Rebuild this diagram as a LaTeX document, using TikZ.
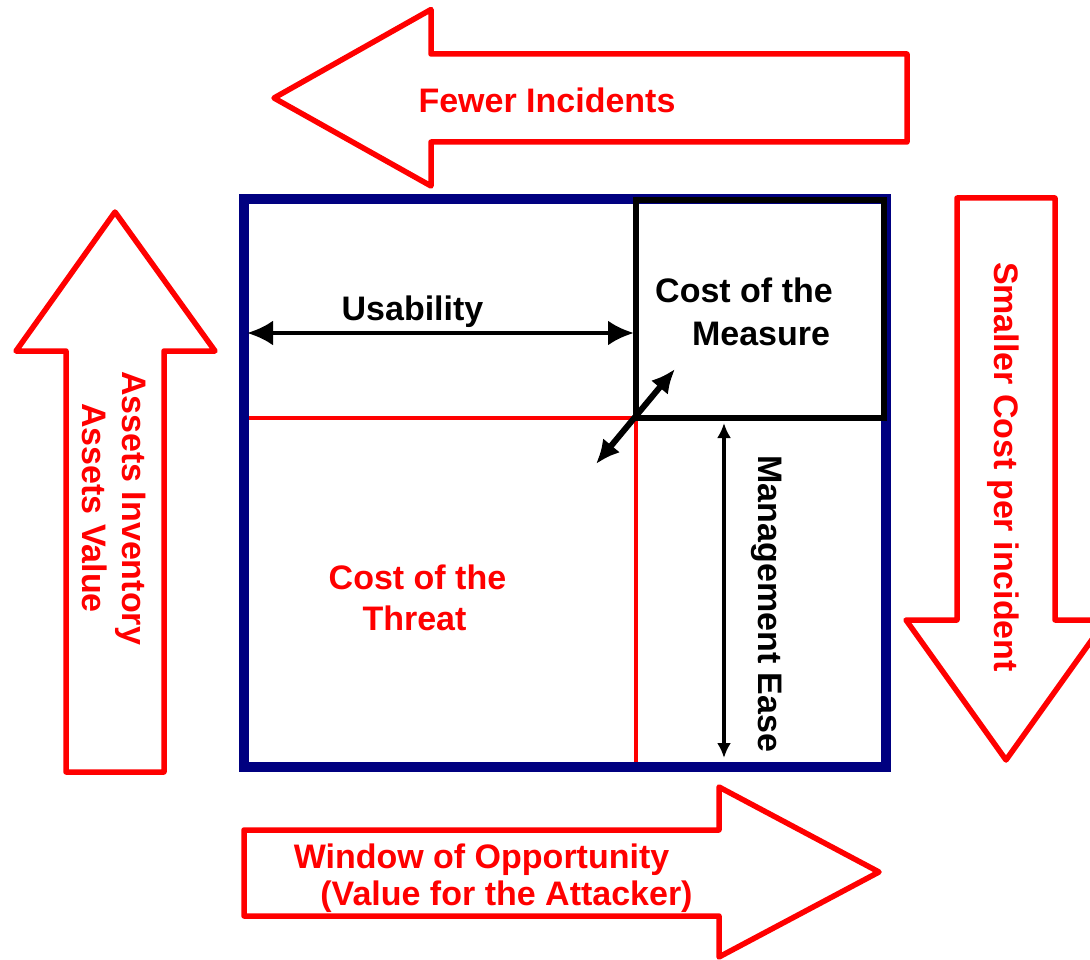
\documentclass[tikz,border=0pt]{standalone}
\usepackage{fontspec}
\setmainfont{Liberation Sans}
\usetikzlibrary{arrows.meta}
\definecolor{navybox}{RGB}{0,0,128}
\definecolor{redline}{RGB}{255,0,0}
\begin{document}
\begin{tikzpicture}[x=1pt,y=-1pt,
  lbl/.style={font=\bfseries\fontsize{34}{40}\selectfont, inner sep=0pt, anchor=base},
  redlbl/.style={lbl, text=redline},
  bigarrow/.style={draw=redline, line width=5.5pt, line join=round, fill=white},
  dimarrow/.style={draw=black, line width=4.5pt, {Latex[length=26pt,width=25pt]}-{Latex[length=26pt,width=25pt]}},
  diagarrow/.style={draw=black, line width=6pt, {Latex[length=24pt,width=22pt]}-{Latex[length=24pt,width=22pt]}},
  thinarrow/.style={draw=black, line width=3.3pt, {Latex[length=15pt,width=14pt]}-{Latex[length=15pt,width=14pt]}}]
\clip (0,0) rectangle (1090,960);
\fill[white] (0,0) rectangle (1090,960);

% outer frame and quadrant split
\draw[navybox, line width=10pt] (244,199) rectangle (886,767);
\draw[redline, line width=4.5pt] (249,418) -- (636,418);
\draw[redline, line width=4.5pt] (636,418) -- (636,762);
% the measure quadrant
\draw[black, line width=5.5pt] (636,200) rectangle (884,418);

% big block arrows
\draw[bigarrow] (274,98) -- (431,9.5) -- (431,54) -- (907,54) -- (907,142) -- (431,142) -- (431,186) -- cycle;
\draw[bigarrow] (115,212) -- (215,351) -- (164,351) -- (164,772) -- (66,772) -- (66,351) -- (16,351) -- cycle;
\draw[bigarrow] (1006,760) -- (906,620) -- (957,620) -- (957,198) -- (1055,198) -- (1055,620) -- (1106,620) -- cycle;
\draw[bigarrow] (244,830) -- (719,830) -- (719,787) -- (879,872) -- (719,957) -- (719,916) -- (244,916) -- cycle;

% arrow labels
\node[redlbl] (fewer) at (547,113) {Fewer Incidents};
\node[redlbl, rotate=-90] (assetsinv) at (122,508) {Assets Inventory};
\node[redlbl, rotate=-90] (assetsval) at (82,508) {Assets Value};
\node[redlbl, rotate=-90] (smaller) at (994,467) {Smaller Cost per incident};
\node[redlbl] (window) at (481.5,868) {Window of Opportunity};
\node[redlbl] (valueatt) at (506.5,905) {(Value for the Attacker)};

% quadrant labels
\node[lbl] (usab) at (412.5,320) {Usability};
\node[lbl] (costm1) at (744,302.5) {Cost of the};
\node[lbl] (costm2) at (761,345.5) {Measure};
\node[redlbl] (costt1) at (417.5,589) {Cost of the};
\node[redlbl] (costt2) at (414.5,630) {Threat};
\node[lbl, rotate=-90] (mgmt) at (758,604) {Management Ease};

% dimension arrows
\coordinate (usL) at (247,333);
\coordinate (usR) at (634,333);
\coordinate (dgA) at (596,464);
\coordinate (dgB) at (675,369);
\coordinate (mgT) at (724,423);
\coordinate (mgB) at (724,758);
\draw[dimarrow] (usL) -- (usR);
\draw[diagarrow] (dgA) -- (dgB);
\draw[thinarrow] (mgT) -- (mgB);
\end{tikzpicture}
\end{document}
